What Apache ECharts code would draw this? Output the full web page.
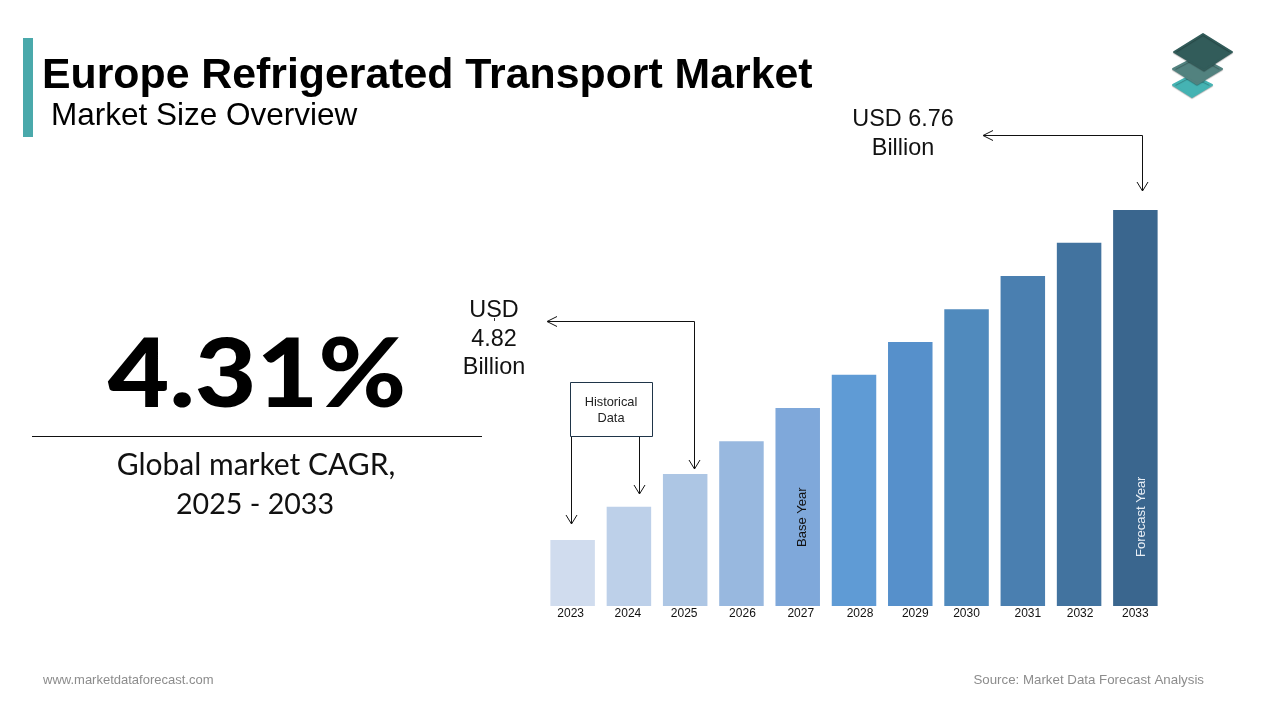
<!DOCTYPE html>
<html>
<head>
<meta charset="utf-8">
<title>Europe Refrigerated Transport Market</title>
<script src="https://cdn.jsdelivr.net/npm/echarts@6/dist/echarts.min.js"></script>
<style>
html, body { margin: 0; padding: 0; background: #fff; }
#Main { width: 1280px; height: 720px; }
</style>
</head>
<body>
<div id="Main"></div>
<script>
// 数据
var years = ['2023', '2024', '2025', '2026', '2027', '2028', '2029', '2030', '2031', '2032', '2033'];
var marketSize = [4.335, 4.58, 4.82, 5.06, 5.305, 5.55, 5.79, 6.03, 6.275, 6.52, 6.76];
var barColors = ['#d0dcee', '#bdd0e9', '#adc6e4', '#98b8df', '#7fa8da', '#5f9bd5', '#5690cb', '#508abd', '#4a7fb0', '#42739f', '#3a668e'];
var labelNudge = [-2, -1, -1, 1, 3, 6, 5, 0, 5, 1, 0]; // 年份标签的左右偏移

var arial = '"Liberation Sans", Arial, sans-serif';
var lato = 'Lato, "Open Sans", sans-serif';
var lineColor = '#111';

function arrow(points, tipA, tipB) {
	var els = [{
		type: 'polyline',
		shape: { points: points },
		style: { stroke: lineColor, lineWidth: 1, fill: null }
	}];
	[tipA, tipB].forEach(function(t) {
		if (t) {
			els.push({
				type: 'polyline',
				shape: { points: t },
				style: { stroke: lineColor, lineWidth: 1, fill: null }
			});
		}
	});
	return els;
}

function txt(x, y, text, font, size, weight, align, color) {
	return {
		type: 'text',
		x: x,
		y: y,
		style: {
			text: text,
			fontFamily: font,
			fontSize: size,
			fontWeight: weight || 'normal',
			fill: color || '#000',
			align: align || 'left',
			verticalAlign: 'middle'
		}
	};
}

function layer(points, color) {
	return {
		type: 'polygon',
		shape: { points: points },
		style: { fill: color, stroke: color, lineWidth: 2, lineJoin: 'round', shadowColor: 'rgba(0,0,0,0.25)', shadowBlur: 1, shadowOffsetY: 1 }
	};
}

// 大数字稍微拉宽
var bigNumber = txt(257, 376, '4.31%', lato, 95, 900, 'center');
bigNumber.scaleX = 1.12;

var graphics = [
	// 左上角色条
	{ type: 'rect', shape: { x: 23, y: 38, width: 10, height: 99 }, style: { fill: '#4aa9ab' } },
	txt(42, 76, 'Europe Refrigerated Transport Market', arial, 42.8, 'bold'),
	txt(51, 116, 'Market Size Overview', arial, 31.5),
	// 左侧大数字
	bigNumber,
	{ type: 'line', shape: { x1: 32, y1: 436.5, x2: 482, y2: 436.5 }, style: { stroke: '#111', lineWidth: 1 } },
	txt(256, 465, 'Global market CAGR,', lato, 30, 'normal', 'center', '#111'),
	txt(255, 505, '2025 - 2033', lato, 28.6, 'normal', 'center', '#111'),
	// 标注文字
	txt(903, 120, 'USD 6.76', arial, 23.4, 'normal', 'center', '#111'),
	txt(903, 149, 'Billion', arial, 23.4, 'normal', 'center', '#111'),
	txt(494, 310.5, 'USD', arial, 23.4, 'normal', 'center', '#111'),
	txt(494, 339.5, '4.82', arial, 23.4, 'normal', 'center', '#111'),
	txt(494, 368, 'Billion', arial, 23.4, 'normal', 'center', '#111'),
	{ type: 'line', shape: { x1: 494.5, y1: 318, x2: 494.5, y2: 321 }, style: { stroke: '#333', lineWidth: 1 } },
	// Historical Data 框
	{ type: 'rect', shape: { x: 570.5, y: 382.5, width: 82, height: 54 }, style: { fill: '#fff', stroke: '#1f3549', lineWidth: 1 } },
	txt(611, 402, 'Historical', arial, 12.8, 'normal', 'center', '#222'),
	txt(611, 418, 'Data', arial, 12.8, 'normal', 'center', '#222'),
	// 页脚
	txt(43, 680, 'www.marketdataforecast.com', arial, 13, 'normal', 'left', '#8c8c8c'),
	txt(1204, 680, 'Source: Market Data Forecast Analysis', arial, 13.3, 'normal', 'right', '#8c8c8c'),
	// 右上角图标
	layer([[1173, 85], [1192, 75], [1212, 85], [1192, 97]], '#45b3b3'),
	layer([[1173, 69], [1198, 56], [1222, 69], [1197, 84]], '#52827f'),
	layer([[1174, 52], [1203, 34], [1232, 52], [1204, 70]], '#325c5a')
];

// 箭头
graphics = graphics.concat(
	arrow([[984, 135.5], [1142.5, 135.5], [1142.5, 191]],
		[[993, 130.5], [983, 135.5], [993, 140.5]],
		[[1137, 182], [1142.5, 191], [1148, 182]]),
	arrow([[548, 321.5], [694.5, 321.5], [694.5, 469]],
		[[557, 316.5], [547, 321.5], [557, 326.5]],
		[[689, 460], [694.5, 469], [700, 460]]),
	arrow([[571.5, 437], [571.5, 524]], null,
		[[566, 515], [571.5, 524], [577, 515]]),
	arrow([[639.5, 437], [639.5, 494]], null,
		[[634, 485], [639.5, 494], [645, 485]])
);

var barData = marketSize.map(function(v, i) {
	var item = { value: v, itemStyle: { color: barColors[i] } };
	if (years[i] == '2027') {
		item.label = { show: true, formatter: 'Base Year', position: 'insideBottom', rotate: 90, align: 'left', verticalAlign: 'middle', offset: [54, 5], color: '#111', fontSize: 13, fontFamily: arial };
	}
	if (years[i] == '2033') {
		item.label = { show: true, formatter: 'Forecast Year', position: 'insideBottom', rotate: 90, align: 'left', verticalAlign: 'middle', offset: [44, 6], color: '#e8eef5', fontSize: 13, fontFamily: arial };
	}
	return item;
});

var axisData = years.map(function(y, i) {
	var n = labelNudge[i];
	// padding 只加一边，标签中心移动一半
	return { value: y, textStyle: { padding: n > 0 ? [0, 0, 0, n * 2] : [0, -n * 2, 0, 0] } };
});

var myChart = echarts.init(document.getElementById('Main'), null, { renderer: 'canvas' });
myChart.setOption({
	animation: false,
	backgroundColor: '#fff',
	grid: { left: 544.5, top: 210, width: 619, height: 396 },
	xAxis: {
		type: 'category',
		data: axisData,
		axisLine: { show: false },
		axisTick: { show: false },
		axisLabel: { color: '#111', fontSize: 12, fontFamily: arial, margin: 2, interval: 0 }
	},
	yAxis: { type: 'value', min: 3.85, max: 6.76, show: false },
	series: [{
		type: 'bar',
		data: barData,
		barWidth: 44.5
	}],
	graphic: { elements: graphics }
});
</script>
</body>
</html>
